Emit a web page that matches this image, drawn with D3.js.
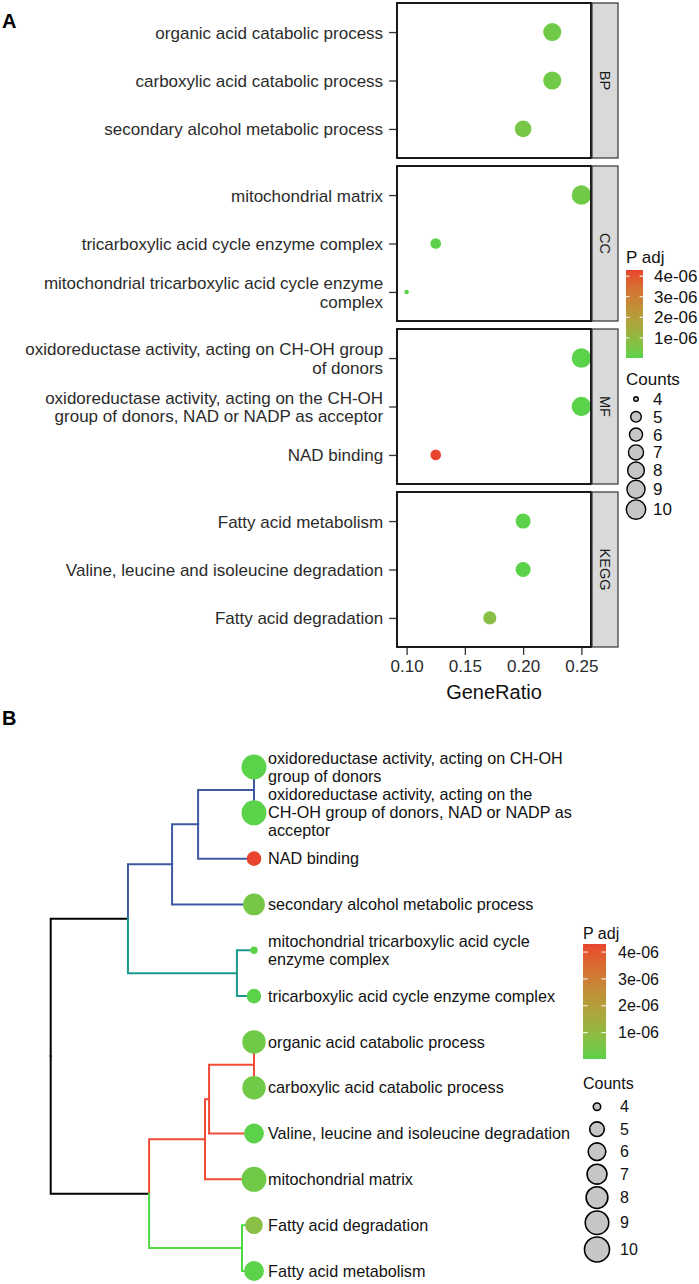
<!DOCTYPE html>
<html>
<head>
<meta charset="utf-8">
<script src="https://cdn.jsdelivr.net/npm/d3@7"></script>
<style>
  body { margin: 0; background: #fff; }
  svg { display: block; font-family: "Liberation Sans", Arial, Helvetica, sans-serif; }
</style>
</head>
<body>
<svg id="chart" width="699" height="1284"></svg>
<script>
// ---------------- DATA ----------------
const facets = ["BP", "CC", "MF", "KEGG"];
const terms = [
  "organic acid catabolic process",
  "carboxylic acid catabolic process",
  "secondary alcohol metabolic process",
  "mitochondrial matrix",
  "tricarboxylic acid cycle enzyme complex",
  "mitochondrial tricarboxylic acid cycle enzyme complex",
  "oxidoreductase activity, acting on CH-OH group of donors",
  "oxidoreductase activity, acting on the CH-OH group of donors, NAD or NADP as acceptor",
  "NAD binding",
  "Fatty acid metabolism",
  "Valine, leucine and isoleucine degradation",
  "Fatty acid degradation"
];
const ontology = ["BP","BP","BP","CC","CC","CC","MF","MF","MF","KEGG","KEGG","KEGG"];
const geneRatio = [0.225, 0.225, 0.2, 0.25, 0.125, 0.1, 0.25, 0.25, 0.125, 0.2, 0.2, 0.1714];
const counts    = [9, 9, 8, 10, 5, 4, 10, 10, 5, 7, 7, 6];
const pAdj      = [3.5e-07, 3.5e-07, 4.5e-07, 3.5e-07, 4e-08, 4e-08, 2e-08, 2e-08, 4.3e-06, 4e-08, 4e-08, 8e-07];

// wrapped labels (panel A and panel B)
const labelsA = [
  "organic acid catabolic process",
  "carboxylic acid catabolic process",
  "secondary alcohol metabolic process",
  "mitochondrial matrix",
  "tricarboxylic acid cycle enzyme complex",
  "mitochondrial tricarboxylic acid cycle enzyme\ncomplex",
  "oxidoreductase activity, acting on CH-OH group\nof donors",
  "oxidoreductase activity, acting on the CH-OH\ngroup of donors, NAD or NADP as acceptor",
  "NAD binding",
  "Fatty acid metabolism",
  "Valine, leucine and isoleucine degradation",
  "Fatty acid degradation"
];
const labelsB = [
  "organic acid catabolic process",
  "carboxylic acid catabolic process",
  "secondary alcohol metabolic process",
  "mitochondrial matrix",
  "tricarboxylic acid cycle enzyme complex",
  "mitochondrial tricarboxylic acid cycle\nenzyme complex",
  "oxidoreductase activity, acting on CH-OH\ngroup of donors",
  "oxidoreductase activity, acting on the\nCH-OH group of donors, NAD or NADP as\nacceptor",
  "NAD binding",
  "Fatty acid metabolism",
  "Valine, leucine and isoleucine degradation",
  "Fatty acid degradation"
];

const xTicks = [0.10, 0.15, 0.20, 0.25];
const pTicks = [1e-06, 2e-06, 3e-06, 4e-06];
const pTickLabels = ["1e-06", "2e-06", "3e-06", "4e-06"];
const countBreaks = [4, 5, 6, 7, 8, 9, 10];

// Dendrogram: [id, parent, height, cluster]
const treeNodes = [
  ["root", null, 1.0, "root"],
  ["upper", "root", 0.620, "root"],
  ["lower", "root", 0.516, "root"],
  ["blue1", "upper", 0.403, "blue"],
  ["teal1", "upper", 0.084, "teal"],
  ["blue2", "blue1", 0.275, "blue"],
  ["secondary alcohol metabolic process", "blue1", 0, "blue"],
  ["blue3", "blue2", 0.0, "blue"],
  ["NAD binding", "blue2", 0, "blue"],
  ["oxidoreductase activity, acting on CH-OH group of donors", "blue3", 0, "blue"],
  ["oxidoreductase activity, acting on the CH-OH group of donors, NAD or NADP as acceptor", "blue3", 0, "blue"],
  ["mitochondrial tricarboxylic acid cycle enzyme complex", "teal1", 0, "teal"],
  ["tricarboxylic acid cycle enzyme complex", "teal1", 0, "teal"],
  ["red1", "lower", 0.241, "red"],
  ["green1", "lower", 0.059, "green"],
  ["red2", "red1", 0.221, "red"],
  ["mitochondrial matrix", "red1", 0, "red"],
  ["red3", "red2", 0.0, "red"],
  ["Valine, leucine and isoleucine degradation", "red2", 0, "red"],
  ["organic acid catabolic process", "red3", 0, "red"],
  ["carboxylic acid catabolic process", "red3", 0, "red"],
  ["Fatty acid degradation", "green1", 0, "green"],
  ["Fatty acid metabolism", "green1", 0, "green"]
];
const leafOrder = [
  "oxidoreductase activity, acting on CH-OH group of donors",
  "oxidoreductase activity, acting on the CH-OH group of donors, NAD or NADP as acceptor",
  "NAD binding",
  "secondary alcohol metabolic process",
  "mitochondrial tricarboxylic acid cycle enzyme complex",
  "tricarboxylic acid cycle enzyme complex",
  "organic acid catabolic process",
  "carboxylic acid catabolic process",
  "Valine, leucine and isoleucine degradation",
  "mitochondrial matrix",
  "Fatty acid degradation",
  "Fatty acid metabolism"
];
const clusterColors = { root: "#000000", blue: "#3D59A1", teal: "#1A9A8A", red: "#EF4B36", green: "#4FD844" };

// ---------------- SCALES ----------------
const svg = d3.select("#chart");
const pMin = d3.min(pAdj), pMax = d3.max(pAdj);
const color = d3.scaleLinear().domain([pMin, pMax]).range(["#5AD24A", "#E8442E"]).interpolate(d3.interpolateLab);
const cMin = d3.min(countBreaks), cMax = d3.max(countBreaks);
const sizeA = d3.scaleSqrt().domain([0, cMax - cMin]).range([2.3, 9.7]);
const sizeB = d3.scaleSqrt().domain([0, cMax - cMin]).range([3.7, 12.5]);
const rA = c => sizeA(c - cMin);
const rB = c => sizeB(c - cMin);

function multiline(sel, text, lh, fs) {
  const lines = text.split("\n");
  const off = -(lines.length - 1) / 2 * lh + 0.35 * fs;
  sel.attr("dy", null);
  lines.forEach((ln, i) => {
    sel.append("tspan").attr("x", sel.attr("x") || 0).attr("dy", (i === 0 ? off : lh) + "px").text(ln);
  });
}

// ---------------- PANEL A ----------------
const plotLeft = 397, plotRight = 591, stripW = 26;
const panelTop0 = 3, panelH = 155, panelGap = 8;
const xExt = d3.extent(geneRatio), xPad = (xExt[1] - xExt[0]) * 0.055;
const x = d3.scaleLinear().domain([xExt[0] - xPad, xExt[1] + xPad]).range([plotLeft, plotRight]);

svg.append("text").attr("x", 2).attr("y", 28).attr("font-size", 20).attr("font-weight", "bold").text("A");

facets.forEach((f, fi) => {
  const top = panelTop0 + fi * (panelH + panelGap);
  const idx = terms.map((t, i) => i).filter(i => ontology[i] === f);
  const y = d3.scalePoint().domain(idx.map(i => terms[i])).range([top, top + panelH]).padding(0.6);
  const g = svg.append("g");
  g.append("rect").attr("x", plotLeft).attr("y", top).attr("width", plotRight - plotLeft).attr("height", panelH).attr("fill", "#fff");
  g.selectAll("circle.dot").data(idx).join("circle")
    .attr("cx", i => x(geneRatio[i])).attr("cy", i => y(terms[i]))
    .attr("r", i => rA(counts[i])).attr("fill", i => color(pAdj[i]));
  g.append("rect").attr("x", plotLeft).attr("y", top).attr("width", plotRight - plotLeft).attr("height", panelH)
    .attr("fill", "none").attr("stroke", "#000").attr("stroke-width", 1.8);
  // y axis
  const ax = g.append("g").attr("transform", `translate(${plotLeft - 0.9},0)`)
    .call(d3.axisLeft(y).tickSize(7).tickPadding(6));
  ax.select(".domain").remove();
  ax.selectAll(".tick line").attr("stroke", "#333").attr("stroke-width", 1.3);
  ax.selectAll(".tick text").each(function(t) {
    const s = d3.select(this);
    s.text(null).attr("font-size", 17).attr("fill", "#2b2b2b").attr("font-family", null);
    multiline(s, labelsA[terms.indexOf(t)], 18.3, 17);
  });
  // strip
  g.append("rect").attr("x", plotRight + 1).attr("y", top).attr("width", stripW).attr("height", panelH)
    .attr("fill", "#D9D9D9").attr("stroke", "#333").attr("stroke-width", 1.2);
  g.append("text").attr("transform", `translate(${plotRight + 1 + stripW / 2},${top + panelH / 2}) rotate(90)`)
    .attr("text-anchor", "middle").attr("dy", "0.35em").attr("font-size", 14.5).attr("fill", "#1A1A1A").text(f);
});

const axisY = panelTop0 + facets.length * panelH + (facets.length - 1) * panelGap;
const xAx = svg.append("g").attr("transform", `translate(0,${axisY + 0.9})`)
  .call(d3.axisBottom(x).tickValues(xTicks).tickFormat(d3.format(".2f")).tickSize(7).tickPadding(5));
xAx.select(".domain").remove();
xAx.selectAll(".tick line").attr("stroke", "#333").attr("stroke-width", 1.3);
xAx.selectAll(".tick text").attr("font-size", 17).attr("fill", "#2b2b2b").attr("font-family", null);
svg.append("text").attr("x", (plotLeft + plotRight) / 2).attr("y", axisY + 45).attr("dy", "0.35em")
  .attr("text-anchor", "middle").attr("font-size", 20).attr("fill", "#111").text("GeneRatio");

// ---------------- LEGENDS ----------------
const defs = svg.append("defs");
function drawLegend(o) {
  const g = svg.append("g");
  g.append("text").attr("x", o.x).attr("y", o.titleY).attr("dy", "0.35em").attr("font-size", o.fs).attr("fill", "#111").text("P adj");
  const gid = "grad" + o.id;
  const grad = defs.append("linearGradient").attr("id", gid).attr("x1", 0).attr("y1", 1).attr("x2", 0).attr("y2", 0);
  d3.range(0, 1.0001, 0.05).forEach(t => {
    grad.append("stop").attr("offset", t).attr("stop-color", color(pMin + t * (pMax - pMin)));
  });
  const yb = d3.scaleLinear().domain([pMin, pMax]).range([o.barTop + o.barH, o.barTop]);
  g.append("rect").attr("x", o.x).attr("y", o.barTop).attr("width", o.barW).attr("height", o.barH).attr("fill", `url(#${gid})`);
  pTicks.forEach((p, i) => {
    const yy = yb(p);
    g.append("line").attr("x1", o.x).attr("x2", o.x + o.barW / 5).attr("y1", yy).attr("y2", yy).attr("stroke", "#fff").attr("stroke-width", 1);
    g.append("line").attr("x1", o.x + o.barW * 4 / 5).attr("x2", o.x + o.barW).attr("y1", yy).attr("y2", yy).attr("stroke", "#fff").attr("stroke-width", 1);
    g.append("text").attr("x", o.labX).attr("y", yy).attr("dy", "0.35em").attr("font-size", o.fs).attr("fill", "#111").text(pTickLabels[i]);
  });
  g.append("text").attr("x", o.x).attr("y", o.countsY).attr("dy", "0.35em").attr("font-size", o.fs).attr("fill", "#111").text("Counts");
  let cy = o.firstY, prevH = null;
  countBreaks.forEach(c => {
    const r = o.r(c);
    const h = Math.max(o.keyBase, 2 * r + o.keyExtra);
    if (prevH !== null) cy += (prevH + h) / 2;
    prevH = h;
    g.append("circle").attr("cx", o.cx).attr("cy", cy).attr("r", r).attr("fill", "#C6C6C6").attr("stroke", "#000").attr("stroke-width", o.sw);
    g.append("text").attr("x", o.cLabX).attr("y", cy).attr("dy", "0.35em").attr("font-size", o.fs).attr("fill", "#111").text(c);
  });
}
drawLegend({ id: "A", x: 626, titleY: 257, barTop: 270, barH: 88, barW: 17, labX: 654, fs: 17,
  countsY: 379, firstY: 399, cx: 636, cLabX: 653, r: rA, keyBase: 17.8, keyExtra: 1.5, sw: 1.4 });

// ---------------- PANEL B ----------------
svg.append("text").attr("x", 2).attr("y", 725).attr("font-size", 20).attr("font-weight", "bold").text("B");

const yLeaf = d3.scalePoint().domain(leafOrder).range([767, 1271]);
const xTree = d3.scaleLinear().domain([1, 0]).range([50.7, 254]);
const root = d3.stratify().id(d => d[0]).parentId(d => d[1])(treeNodes);
root.eachAfter(n => {
  n.ty = n.children ? d3.mean(n.children, c => c.ty) : yLeaf(n.id);
  n.tx = xTree(n.data[2]);
});
const tg = svg.append("g");
tg.selectAll("path.edge").data(root.descendants().filter(n => n.parent)).join("path")
  .attr("d", n => `M${n.parent.tx},${n.parent.ty}V${n.ty}H${n.tx}`)
  .attr("fill", "none").attr("stroke", n => clusterColors[n.data[3]]).attr("stroke-width", 2)
  .attr("stroke-linecap", "square");
const leaves = root.leaves();
tg.selectAll("circle.leaf").data(leaves).join("circle")
  .attr("cx", n => n.tx).attr("cy", n => n.ty)
  .attr("r", n => rB(counts[terms.indexOf(n.id)]))
  .attr("fill", n => color(pAdj[terms.indexOf(n.id)]));
leaves.forEach(n => {
  const t = tg.append("text").attr("x", 268).attr("y", n.ty)
    .attr("font-size", 16.2).attr("fill", "#111");
  multiline(t, labelsB[terms.indexOf(n.id)], 18, 16.2);
});

drawLegend({ id: "B", x: 583, titleY: 933, barTop: 944, barH: 115, barW: 23, labX: 618, fs: 16,
  countsY: 1083, firstY: 1106.7, cx: 597, cLabX: 620, r: rB, keyBase: 22.5, keyExtra: 2.5, sw: 1.6 });
</script>
</body>
</html>
